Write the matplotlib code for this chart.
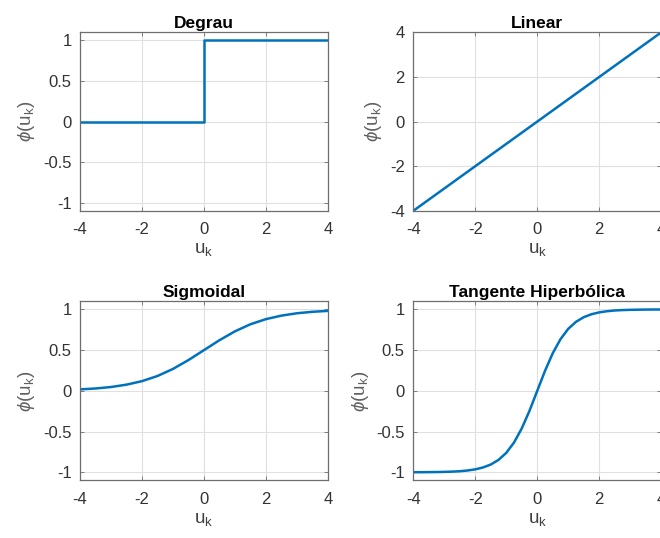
import matplotlib.pyplot as plt

plt.rcParams['font.family'] = ['Liberation Sans', 'DejaVu Sans']
plt.rcParams['mathtext.fontset'] = 'custom'
plt.rcParams['mathtext.rm'] = 'Liberation Sans'
plt.rcParams['mathtext.it'] = 'Liberation Sans:italic'

# Data
step_u = [-4, 0, 0, 4]
step_phi = [0, 0, 1, 1]

lin_u = [-4, 4]
lin_phi = [-4, 4]

sig_u = [-4, -3.5, -3, -2.5, -2, -1.5, -1, -0.5, 0,
         0.5, 1, 1.5, 2, 2.5, 3, 3.5, 4]
sig_phi = [0.018, 0.029, 0.047, 0.076, 0.119, 0.182, 0.269, 0.378, 0.5,
           0.622, 0.731, 0.818, 0.881, 0.924, 0.953, 0.971, 0.982]

tanh_u = [-4, -3.75, -3.5, -3.25, -3, -2.75, -2.5, -2.25, -2, -1.75, -1.5,
          -1.25, -1, -0.75, -0.5, -0.25, 0, 0.25, 0.5, 0.75, 1, 1.25, 1.5,
          1.75, 2, 2.25, 2.5, 2.75, 3, 3.25, 3.5, 3.75, 4]
tanh_phi = [-0.999, -0.999, -0.998, -0.997, -0.995, -0.992, -0.987, -0.978,
            -0.964, -0.941, -0.905, -0.848, -0.762, -0.635, -0.462, -0.245,
            0.0, 0.245, 0.462, 0.635, 0.762, 0.848, 0.905, 0.941, 0.964,
            0.978, 0.987, 0.992, 0.995, 0.997, 0.998, 0.999, 0.999]

titles = ["Degrau", "Linear", "Sigmoidal", "Tangente Hiperbólica"]
xticks = [-4, -2, 0, 2, 4]
yticks_unit = [-1, -0.5, 0, 0.5, 1]
ytick_labels_unit = ["-1", "-0.5", "0", "0.5", "1"]
yticks_lin = [-4, -2, 0, 2, 4]

fig = plt.figure(figsize=(6.6, 5.38), dpi=100)
positions = [
    [0.121, 0.608, 0.376, 0.332],
    [0.626, 0.608, 0.376, 0.332],
    [0.121, 0.107, 0.376, 0.333],
    [0.626, 0.107, 0.376, 0.333],
]
series = [(step_u, step_phi), (lin_u, lin_phi), (sig_u, sig_phi), (tanh_u, tanh_phi)]

for i, (pos, (u, phi), title) in enumerate(zip(positions, series, titles)):
    ax = fig.add_axes(pos)
    ax.plot(u, phi, color='#0072BD', lw=1.8)
    ax.set_xlim(-4, 4)
    ax.set_xticks(xticks)
    ax.set_xticklabels([str(t) for t in xticks])
    if i == 1:
        ax.set_ylim(-4, 4)
        ax.set_yticks(yticks_lin)
        ax.set_yticklabels([str(t) for t in yticks_lin])
    else:
        ax.set_ylim(-1.1, 1.1)
        ax.set_yticks(yticks_unit)
        ax.set_yticklabels(ytick_labels_unit)
    ax.grid(True, color='#e0e0e0', lw=0.8)
    ax.set_axisbelow(True)
    for s in ax.spines.values():
        s.set_color('#6e6e6e')
        s.set_linewidth(0.9)
    ax.tick_params(direction='in', length=3, width=0.6, color='#6e6e6e',
                   labelcolor='#333333', labelsize=12, top=True, right=True)
    ax.tick_params(axis='x', pad=8)
    ax.tick_params(axis='y', pad=6)
    ax.set_title(title, fontsize=12.5, fontweight='bold', color='black', pad=3)
    ax.set_xlabel(r'u$_\mathregular{k}$', fontsize=13.5, color='#404040', labelpad=3)
    ax.set_ylabel(r'$\phi$(u$_\mathregular{k}$)', fontsize=13.5, color='#606060', labelpad=4)

fig.savefig('out.png', dpi=100)
